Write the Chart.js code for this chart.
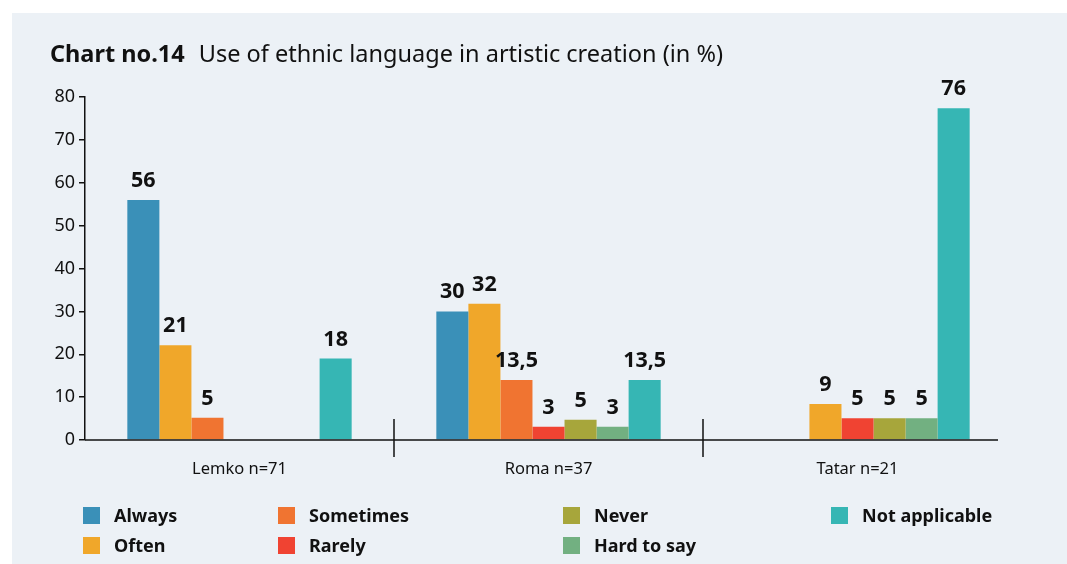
<!DOCTYPE html>
<html>
<head>
<meta charset="utf-8">
<script src="https://cdn.jsdelivr.net/npm/chart.js@4"></script>
<style>
  html, body { margin: 0; padding: 0; background: #fff; }
  body { width: 1067px; height: 564px; position: relative; overflow: hidden; font-family: "Noto Sans", sans-serif; }
  .panel { position: absolute; left: 12px; top: 13px; right: 0; bottom: 0; background: #ecf1f6; }
  #chart { position: absolute; left: 0; top: 0; }
  .title { position: absolute; left: 50px; top: 37px; font-size: 23.5px; color: #111; white-space: nowrap; }
  .title b { font-weight: 700; margin-right: 8px; }
  .legend {
    position: absolute; left: 83px; top: 500px;
    display: grid; grid-template-columns: 195px 285px 268px 220px;
    grid-template-rows: 30px 30px; grid-auto-flow: column;
  }
  .legend div { display: flex; align-items: center; font-size: 18px; font-weight: 700; color: #111; }
  .legend span { width: 17px; height: 17px; margin-right: 14px; flex: none; }
</style>
</head>
<body>
<div class="panel"></div>
<canvas id="chart" width="1067" height="564"></canvas>
<div class="title"><b>Chart no.14</b> Use of ethnic language in artistic creation (in %)</div>
<div class="legend" id="legend"></div>
<script>
const categories = ["Lemko n=71", "Roma n=37", "Tatar n=21"];
const seriesNames = ["Always", "Often", "Sometimes", "Rarely", "Never", "Hard to say", "Not applicable"];
const seriesColors = ["#3a90b8", "#f0a72a", "#f07431", "#f04332", "#a7a63b", "#72b081", "#36b6b4"];

// bar heights as drawn
const always = [56, 30, null];
const often = [22.1, 31.8, null];
const sometimes = [5.2, 14, 8.4];
const rarely = [null, 3.1, 5.1];
const never = [null, 4.7, 5.1];
const hardToSay = [null, 3.1, 5.1];
const notApplicable = [19, 14, 77.4];

// printed labels
const alwaysText = ["56", "30", ""];
const oftenText = ["21", "32", ""];
const sometimesText = ["5", "13,5", "9"];
const rarelyText = ["", "3", "5"];
const neverText = ["", "5", "5"];
const hardToSayText = ["", "3", "5"];
const notApplicableText = ["18", "13,5", "76"];

const values = [always, often, sometimes, rarely, never, hardToSay, notApplicable];
const texts = [alwaysText, oftenText, sometimesText, rarelyText, neverText, hardToSayText, notApplicableText];

// in the source the Tatar "Often" bar (9) sits in the third slot, so it keeps the Often colour there
const sometimesColors = [seriesColors[2], seriesColors[2], seriesColors[1]];

const valueLabels = {
  id: "valueLabels",
  afterDatasetsDraw(chart) {
    const ctx = chart.ctx;
    ctx.save();
    ctx.font = "bold 21.5px 'Noto Sans'";
    ctx.fillStyle = "#111";
    ctx.textAlign = "center";
    ctx.textBaseline = "alphabetic";
    chart.data.datasets.forEach((ds, di) => {
      chart.getDatasetMeta(di).data.forEach((bar, i) => {
        const t = texts[di][i];
        if (!t) return;
        ctx.fillText(t, bar.x, bar.y - 13);
      });
    });
    ctx.restore();
  }
};

// x axis line (a bit shorter than the plot) and the group dividers
const xAxisLine = {
  id: "xAxisLine",
  afterDraw(chart) {
    const ctx = chart.ctx;
    const x = chart.scales.x;
    const area = chart.chartArea;
    ctx.save();
    ctx.strokeStyle = "#111";
    ctx.lineWidth = 1.5;
    ctx.beginPath();
    ctx.moveTo(area.left, area.bottom);
    ctx.lineTo(area.right - 14, area.bottom);
    ctx.stroke();
    for (let i = 1; i < categories.length; i++) {
      const px = (x.getPixelForTick(i - 1) + x.getPixelForTick(i)) / 2;
      ctx.beginPath();
      ctx.moveTo(px, area.bottom - 21);
      ctx.lineTo(px, area.bottom + 17);
      ctx.stroke();
    }
    ctx.restore();
  }
};

new Chart(document.getElementById("chart"), {
  type: "bar",
  data: {
    labels: categories,
    datasets: seriesNames.map((name, i) => ({
      label: name,
      data: values[i],
      backgroundColor: i === 2 ? sometimesColors : seriesColors[i],
      borderWidth: 0,
      barPercentage: 1,
      categoryPercentage: 0.726,
    })),
  },
  options: {
    responsive: false,
    animation: false,
    layout: { padding: { top: 97, right: 55, bottom: 0, left: 0 } },
    plugins: {
      legend: { display: false },
      tooltip: { enabled: false },
    },
    scales: {
      x: {
        afterFit: (scale) => { scale.height = 124; },
        grid: { display: false },
        border: { display: false },
        ticks: {
          color: "#111",
          padding: 11,
          font: { family: "Noto Sans", size: 16.5 },
        },
      },
      y: {
        min: 0,
        max: 80,
        afterFit: (scale) => { scale.width = 85; },
        border: { display: true, color: "#111", width: 1.5 },
        grid: { drawOnChartArea: false, drawTicks: true, tickLength: 6, color: "#111", lineWidth: 1.5 },
        ticks: {
          stepSize: 10,
          color: "#111",
          padding: 4,
          font: { family: "Noto Sans", size: 18 },
        },
      },
    },
  },
  plugins: [valueLabels, xAxisLine],
});

const legend = document.getElementById("legend");
seriesNames.forEach((name, i) => {
  const item = document.createElement("div");
  const box = document.createElement("span");
  box.style.background = seriesColors[i];
  item.appendChild(box);
  item.appendChild(document.createTextNode(name));
  legend.appendChild(item);
});
</script>
</body>
</html>
